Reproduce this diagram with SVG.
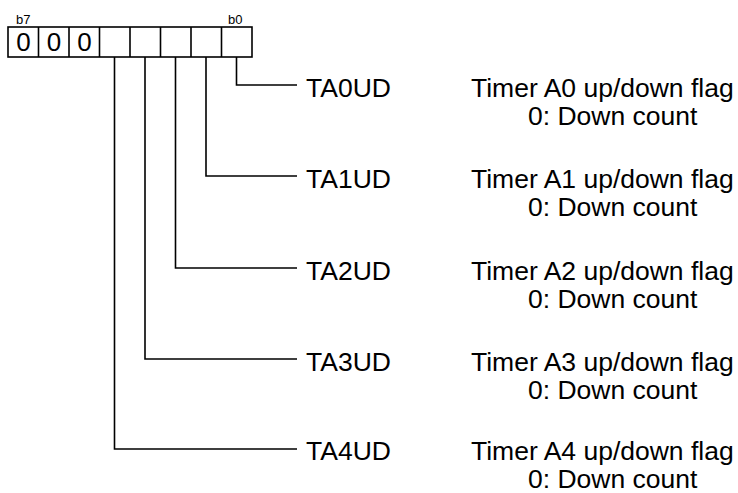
<svg xmlns="http://www.w3.org/2000/svg" width="738" height="493" viewBox="0 0 738 493">
<style>
text{font-family:"Liberation Sans",Arial,sans-serif;fill:#000}
.bit{font-size:13px}
.v{font-size:26px;text-anchor:middle}
.lbl{font-size:26.5px}
.reg{fill:#fff;stroke:#000;stroke-width:1.6}
.ln{fill:none;stroke:#000;stroke-width:1.6}
</style>
<rect width="738" height="493" fill="#fff"/>
<g id="register">
<rect class="reg" x="8" y="27" width="244" height="30"/>
<path class="ln" d="M38.5 27V57M69 27V57M99.5 27V57M130 27V57M160.5 27V57M191 27V57M221.5 27V57"/>
<text class="bit" x="16" y="24">b7</text>
<text class="bit" x="228" y="24">b0</text>
<text class="v" x="23.5" y="51">0</text>
<text class="v" x="54" y="51">0</text>
<text class="v" x="84.5" y="51">0</text>
</g>
<g id="connectors">
<path class="ln" d="M236.5 57V85H297"/>
<path class="ln" d="M206 57V176H297"/>
<path class="ln" d="M175.5 57V268H297"/>
<path class="ln" d="M145 57V359H297"/>
<path class="ln" d="M114.5 57V449H297"/>
</g>
<g id="TA0UD">
<text class="lbl" x="306" y="97">TA0UD</text>
<text class="lbl" x="471" y="97">Timer A0 up/down flag</text>
<text class="lbl" x="528" y="125">0: Down count</text>
</g>
<g id="TA1UD">
<text class="lbl" x="306" y="188">TA1UD</text>
<text class="lbl" x="471" y="188">Timer A1 up/down flag</text>
<text class="lbl" x="528" y="216">0: Down count</text>
</g>
<g id="TA2UD">
<text class="lbl" x="306" y="280">TA2UD</text>
<text class="lbl" x="471" y="280">Timer A2 up/down flag</text>
<text class="lbl" x="528" y="308">0: Down count</text>
</g>
<g id="TA3UD">
<text class="lbl" x="306" y="371">TA3UD</text>
<text class="lbl" x="471" y="371">Timer A3 up/down flag</text>
<text class="lbl" x="528" y="399">0: Down count</text>
</g>
<g id="TA4UD">
<text class="lbl" x="306" y="460">TA4UD</text>
<text class="lbl" x="471" y="460">Timer A4 up/down flag</text>
<text class="lbl" x="528" y="488">0: Down count</text>
</g>
</svg>
